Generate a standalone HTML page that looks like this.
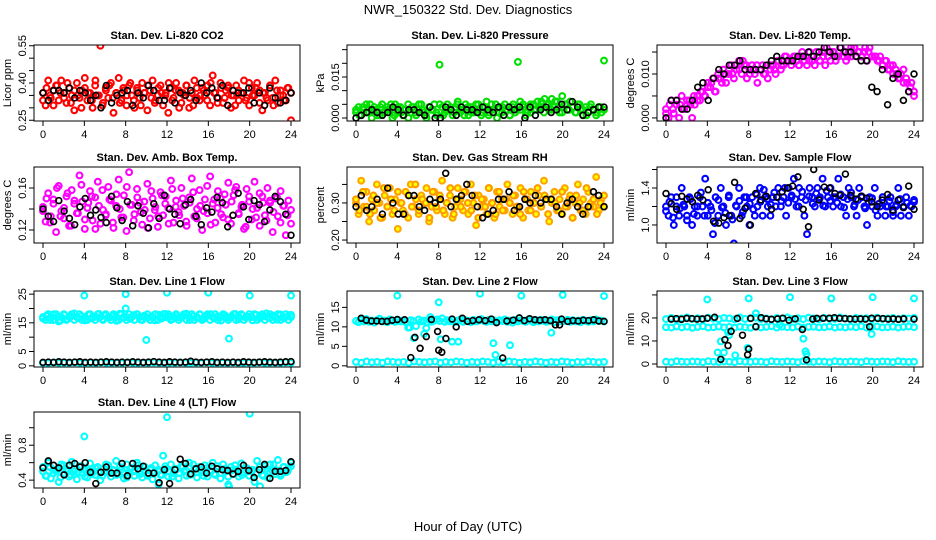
<!DOCTYPE html>
<html><head><meta charset="utf-8"><style>
html,body{margin:0;padding:0;background:#fff;}
svg{display:block;font-family:"Liberation Sans",sans-serif;}
</style></head><body>
<svg id="chart" width="936" height="540" viewBox="0 0 936 540">
<text x="468" y="14" text-anchor="middle" font-size="13">NWR_150322  Std. Dev. Diagnostics</text>
<text x="468" y="531" text-anchor="middle" font-size="13">Hour of Day (UTC)</text>
</svg>
<script>
// ---- data (hours implied as an even grid across 0-24 for each series) ----
const xTicks = [0,4,8,12,16,20,24];
const co2Red = [.36,.31,.41,.34,.37,.39,.33,.41,.36,.32,.38,.35,.29,.40,.34,.37,.42,.33,.36,.30,.39,.35,.55,.32,.38,.34,.40,.28,.36,.42,.33,.37,.31,.39,.35,.30,.38,.34,.40,.36,.29,.37,.41,.33,.35,.39,.31,.36,.28,.38,.34,.40,.37,.32,.35,.39,.30,.36,.41,.34,.33,.38,.35,.39,.31,.43,.36,.34,.40,.32,.37,.38,.30,.35,.39,.33,.36,.41,.34,.31,.38,.35,.40,.37,.29,.36,.33,.39,.34,.41,.32,.37,.35,.33,.38,.25];
const co2Red2 = [.33,.38,.35,.31,.39,.36,.34,.40,.32,.37,.35,.30,.38,.36,.33,.41,.35,.31,.37,.39,.34,.36,.32,.38,.35,.40,.33,.37,.31,.36,.39,.34,.32,.38,.36,.35,.40,.33,.37,.30,.36,.39,.34,.31,.38,.35,.37,.33,.40,.36,.32,.38,.34,.39,.35,.31,.37,.36,.33,.40,.35,.38,.32,.36,.34,.39,.31,.37,.35,.33,.38,.36];
const co2Black = [.36,.33,.37,.37,.36,.38,.34,.37,.36,.33,.35,.30,.39,.32,.35,.36,.37,.31,.36,.34,.39,.37,.33,.33,.38,.32,.36,.35,.37,.33,.40,.36,.38,.34,.39,.31,.37,.36,.36,.38,.32,.36,.31,.38,.34,.32,.33,.36];
const pressGreen = [.002,.004,.001,.003,.005,.002,.000,.004,.003,.001,.005,.002,.004,.003,.000,.005,.002,.004,.001,.003,.005,.002,.004,.001,.003,.005,.002,.000,.004,.003,.005,.001,.0195,.004,.002,.005,.003,.001,.004,.006,.002,.003,.005,.001,.004,.002,.005,.003,.001,.004,.006,.002,.005,.003,.000,.004,.002,.005,.003,.001,.004,.002,.0205,.003,.005,.001,.004,.002,.005,.003,.004,.006,.002,.005,.003,.007,.004,.006,.002,.008,.005,.003,.006,.004,.002,.005,.003,.001,.004,.002,.005,.003,.001,.004,.002,.021];
const pressGreen2 = [.003,.001,.004,.002,.005,.003,.001,.004,.002,.003,.005,.001,.004,.002,.003,.000,.004,.002,.005,.003,.001,.004,.003,.002,.005,.001,.003,.004,.002,.005,.003,.001,.004,.002,.003,.005,.002,.004,.001,.003,.005,.002,.004,.003,.001,.005,.003,.006,.004,.002,.005,.003,.006,.004,.007,.005,.003,.006,.004,.002,.005,.003,.004,.002,.005,.003,.001,.004,.003,.002,.004,.003];
const pressBlack = [.000,.001,.002,.003,.002,.001,.002,.004,.003,.001,.003,.003,.002,.001,.004,.000,.000,.004,.003,.001,.004,.003,.003,.002,.004,.003,.002,.004,.001,.004,.003,.004,.000,.004,.001,.003,.004,.002,.003,.005,.003,.006,.004,.001,.002,.003,.004,.004];
const tempMag = [.002,.000,.004,.001,.003,.000,.005,.002,.003,.004,.000,.003,.005,.004,.006,.005,.008,.007,.009,.006,.010,.009,.011,.008,.010,.012,.009,.011,.013,.010,.012,.009,.011,.012,.010,.008,.011,.012,.010,.009,.011,.012,.010,.013,.011,.012,.014,.013,.012,.014,.013,.012,.014,.013,.012,.015,.013,.012,.014,.013,.015,.012,.014,.013,.015,.013,.014,.016,.014,.013,.015,.014,.016,.014,.015,.014,.015,.013,.016,.014,.014,.013,.014,.012,.013,.011,.012,.010,.011,.009,.010,.008,.009,.006,.008,.005];
const tempMag2 = [.001,.003,.002,.004,.003,.002,.004,.003,.005,.004,.006,.005,.007,.008,.006,.009,.008,.010,.011,.010,.012,.011,.013,.012,.010,.011,.012,.011,.010,.012,.012,.011,.013,.012,.014,.013,.013,.014,.012,.015,.014,.013,.014,.015,.013,.014,.016,.015,.015,.014,.016,.015,.014,.016,.016,.015,.014,.016,.015,.014,.014,.013,.012,.013,.011,.012,.010,.009,.011,.008,.007,.006];
const tempBlack = [.000,.004,.004,.002,.002,.004,.007,.008,.004,.009,.011,.010,.012,.012,.013,.011,.011,.011,.011,.012,.013,.014,.013,.013,.013,.014,.014,.015,.014,.015,.016,.015,.014,.016,.015,.015,.014,.013,.013,.007,.006,.011,.003,.009,.010,.004,.006,.010];
const ambMag = [.142,.128,.155,.133,.149,.118,.162,.138,.131,.152,.124,.158,.145,.136,.172,.147,.121,.141,.157,.129,.151,.166,.126,.139,.134,.161,.148,.122,.143,.168,.132,.153,.119,.175,.144,.135,.159,.146,.125,.139,.164,.131,.150,.142,.123,.156,.134,.152,.141,.167,.127,.148,.137,.160,.143,.124,.151,.169,.133,.140,.158,.120,.149,.136,.171,.145,.127,.157,.150,.132,.144,.165,.126,.153,.161,.135,.142,.121,.159,.147,.130,.166,.141,.124,.152,.134,.160,.146,.118,.150,.133,.157,.143,.115,.148,.139];
const ambMag2 = [.138,.150,.127,.145,.160,.133,.141,.155,.124,.148,.136,.163,.130,.146,.152,.121,.143,.158,.135,.149,.127,.154,.140,.132,.161,.144,.129,.151,.137,.147,.122,.157,.139,.133,.153,.145,.126,.159,.142,.134,.150,.128,.146,.156,.131,.143,.138,.162,.125,.149,.141,.135,.154,.130,.147,.158,.136,.144,.123,.152,.140,.132,.155,.146,.129,.148,.137,.151,.127,.143,.134,.126];
const ambBlack = [.140,.133,.128,.148,.138,.131,.125,.142,.150,.134,.139,.132,.127,.152,.141,.129,.147,.124,.143,.136,.122,.145,.131,.153,.140,.135,.126,.144,.149,.133,.125,.141,.137,.151,.146,.123,.134,.155,.142,.130,.148,.144,.128,.139,.152,.147,.135,.115];
const rhOrange = [.30,.27,.36,.29,.33,.25,.31,.28,.35,.30,.26,.32,.29,.34,.27,.31,.23,.30,.28,.33,.26,.35,.29,.31,.27,.32,.30,.34,.25,.29,.33,.28,.31,.36,.27,.30,.32,.26,.29,.34,.31,.28,.33,.27,.35,.30,.24,.32,.29,.31,.27,.34,.30,.26,.33,.29,.31,.28,.35,.30,.27,.32,.29,.34,.26,.31,.28,.33,.30,.27,.32,.29,.36,.31,.25,.30,.33,.28,.31,.27,.34,.29,.32,.26,.30,.35,.28,.31,.27,.33,.30,.29,.37,.28,.31,.29];
const rhOrange2 = [.31,.28,.33,.29,.27,.32,.30,.26,.34,.29,.31,.28,.33,.30,.27,.32,.29,.35,.28,.31,.30,.26,.33,.29,.32,.28,.30,.34,.27,.31,.29,.33,.30,.28,.32,.26,.31,.29,.34,.30,.27,.33,.28,.31,.30,.32,.29,.27,.33,.31,.28,.30,.34,.29,.32,.27,.31,.30,.28,.33,.29,.31,.26,.32,.30,.28,.34,.29,.31,.27,.30,.32];
const rhBlack = [.29,.32,.28,.29,.31,.27,.34,.30,.27,.27,.32,.32,.29,.28,.31,.30,.31,.38,.29,.31,.32,.35,.32,.29,.26,.27,.28,.31,.31,.33,.28,.29,.31,.30,.32,.30,.31,.31,.29,.27,.30,.31,.29,.27,.29,.33,.32,.29];
const flowBlue = [1.2,1.1,1.3,1.0,1.2,1.1,1.4,1.2,1.1,1.3,1.0,1.2,1.1,1.3,1.2,1.5,1.1,1.2,0.9,1.3,1.1,1.4,1.2,1.0,1.3,1.1,0.8,1.2,1.4,1.1,1.3,1.2,1.0,1.3,1.1,1.2,1.4,1.1,1.3,1.2,1.1,1.3,1.2,1.4,1.2,1.3,1.1,1.4,1.3,1.5,1.2,1.4,1.3,1.1,0.9,1.4,1.3,1.2,1.4,1.3,1.5,1.2,1.3,1.4,1.2,1.3,1.5,1.2,1.3,1.1,1.4,1.3,1.2,1.1,1.4,1.3,1.2,1.0,1.3,1.2,1.4,1.1,1.2,1.3,1.1,1.2,1.3,1.1,1.2,1.4,1.1,1.2,1.3,1.1,1.2,1.25];
const flowBlue2 = [1.15,1.25,1.08,1.3,1.18,1.22,1.05,1.28,1.12,1.2,1.35,1.1,1.24,1.16,1.02,1.27,1.19,1.13,1.32,1.06,1.21,1.26,1.14,1.3,1.23,1.17,1.33,1.25,1.38,1.28,1.22,1.35,1.3,1.26,1.4,1.24,1.32,1.28,1.2,1.36,1.27,1.31,1.23,1.34,1.29,1.21,1.37,1.26,1.3,1.24,1.33,1.19,1.28,1.35,1.22,1.27,1.31,1.18,1.25,1.29,1.16,1.23,1.3,1.2,1.26,1.14,1.22,1.28,1.19,1.24,1.21,1.27];
const flowBlack = [1.34,1.23,1.17,1.31,1.28,1.25,1.32,1.27,1.38,1.04,1.02,1.08,1.10,1.46,1.07,1.18,1.00,1.34,1.27,1.31,1.17,1.30,1.36,1.40,1.42,1.52,1.17,0.98,1.60,1.27,1.41,1.40,1.34,1.32,1.55,1.32,1.28,1.31,1.29,1.25,1.20,1.27,1.33,1.16,1.27,1.19,1.42,1.17];
const l1CyanHigh = [17,16,18,17,16,18,15.5,17,18,16,17,18,16,17,18,16,17,16,18,17,16,18,17,16,18,17,16,18,17,16,18,17,16,18,17,16,18,17,16,17,18,16,17,18,16,17,18,17,18,16,17,18,16,17,18,16,17,18,16,17,18,16,17,18,16,17,18,16,17,18,17,16,17,18,16,17,18,16,17,18,17,18,16,17,18,16,17,18,16,17,18,16,17,18,16,17];
const l1CyanHigh2 = [16.5,17.5,16,18,17,15.8,17.8,16.3,17.2,18.3,16.7,17.4,15.9,17.9,16.6,17.1,18.1,16.2,17.6,16.8,17.3,15.7,18.2,16.9,17,16.4,17.7,18,16.1,17.5,16.8,17.2,15.9,17.8,16.5,18.1,17.1,16.3,17.6,16.9,17.4,18.2,16,17.3,16.7,17.9,16.4,17.5,18,16.6,17.2,15.8,17.7,16.8,17.4,18.1,16.2,17.6,16.9,17.1,15.9,17.8,16.5,17.3,18.3,16.7,17.5,16.1,17.9,16.6,17.2,17.8];
const l1CyanLow = [1,1,1.2,1,1.1,1,1.2,1,1,1.1,1,1.2,1,1,1.1,1,1.2,1,1,1.1,1,1.2,1,1,1.1,1,1.2,1,1,1.1,1,1.2,1,1,1.1,1,1.2,1,1,1.1,1,1.2,1,1,1.1,1,1.2,1];
const l1Black = [1.2,1.3,1.2,1.4,1.3,1.2,1.3,1.4,1.2,1.3,1.2,1.3,1.4,1.3,1.2,1.3,1.2,1.4,1.3,1.2,1.3,1.5,1.3,1.2,1.4,1.3,1.2,1.3,1.6,1.3,1.2,1.3,1.4,1.2,1.3,1.2,1.3,1.2,1.4,1.3,1.2,1.3,1.4,1.3,1.2,1.3,1.4,1.5];
const l1OutHours = [4,8,12,16,20,24,10,18,8];
const l1OutVals = [24.5,25,25.5,25.5,24.5,24.5,9,9.5,20];
const l2CyanHigh = [11.5,11.2,11.8,11.4,12,11.3,11.6,11.1,11.7,12.1,11.4,11.6,11.2,11.9,11.5,11.3,11.8,11.4,11.6,11.2,9.8,11.7,11.5,10.2,11.9,11.4,11.6,11.1,11.8,11.3,11.6,11.9,11.5,12.2,11.3,11.7,11.4,11.8,11.2,11.6,11.9,11.3,11.7,11.5,11.2,11.8,11.4,11.6,12,11.5,11.3,11.8,11.4,11.6,11.2,11.7,11.5,11.9,11.3,11.6,11.1,11.8,11.4,11.7,11.5,11.3,11.9,11.6,11.2,11.7,11.4,11.8,11.5,11.3,11.6,11.9,11.2,11.7,11.4,11.6,11.5,11.8,11.3,11.7,11.4,11.6,11.2,11.8,11.5,11.3,11.7,11.4,11.9,11.5,11.6,11.4];
const l2CyanLow = [1,0.8,1.1,0.9,1,0.8,1.1,1,0.9,1,0.8,1.1,1,0.9,1,1.1,0.8,1,0.9,1.1,1,0.8,1,0.9,1.1,1,0.8,1,0.9,1.1,1,0.8,1,0.9,1.1,1,0.8,1,0.9,1.1,1,0.8,1,0.9,1.1,1,0.9,1];
const l2BlackHours = [0.5,1,1.5,2,2.5,3,3.5,4,4.7,5.3,5.7,6.2,6.8,7.3,7.9,8,8.3,8.7,9.3,9.7,10.3,10.8,11.3,11.9,12.5,13.1,13.6,14.2,14.6,15.2,15.8,16.3,16.8,17.3,17.8,18.3,18.8,19.3,19.7,19.9,20.5,21,21.5,22,22.5,23,23.5,24];
const l2BlackVals = [12.2,11.7,11.5,11.5,11.4,11.4,11.7,11.9,11.8,2.1,7.3,4.5,7.5,11.9,8.8,4,3.5,7,12,10,12.2,11.4,11.6,11.8,11.6,12,11.1,2,11.5,11.7,12.3,11.6,12.1,11.8,11.7,11.8,11.6,10.5,10.5,12,11.4,11.6,11.5,11.7,11.6,11.8,11.5,11.4];
const l2OutHours = [4,8,12,16,20,24,5.2,5.6,6.6,6.8,8.2,9.3,9.9,13.3,13.5,18.9,14.9,7.2];
const l2OutVals = [18,16.3,18.5,18,18.2,17.9,9.8,7.1,8.2,9.7,6.8,6.2,6.2,5.8,2.8,8.5,5.3,12.5];
const l3CyanHigh = [16,15.8,16.3,15.9,16.2,15.7,16.1,16.4,15.8,16,16.3,15.9,16.1,15.8,16.2,16,15.7,16.3,15.9,16.1,16.4,15.8,16.2,16,15.9,16.3,15.8,16.1,16.2,15.9,16,16.3,15.8,16.1,15.9,16.2,16,16.4,15.8,16.1,16.3,15.9,16,16.2,15.8,16.1,16.3,16];
const l3CyanMid = [19.5,20,19.3,19.8,20.2,19.6,19.9,19.4,20.1,19.7,19.5,20,19.8,19.4,20.2,19.6,19.9,20.1,19.5,19.8,19.4,20,19.7,20.2,19.6,19.9,19.5,20.1,19.8,19.4,20,19.7,19.6,20.2,19.8,19.5,20,19.7,19.9,19.4,20.1,19.6,19.8,20,19.5,19.9,19.7,20];
const l3CyanLow = [1,0.8,1.2,1,0.9,1.1,1,0.8,1.2,1,0.9,1.1,1,0.8,1.2,1,0.9,1.1,1,0.8,1.2,1,0.9,1.1,1,0.8,1.2,1,0.9,1.1,1,0.8,1.2,1,0.9,1.1,1,0.8,1.2,1,0.9,1.1,1,0.8,1.2,1,0.9,1];
const l3BlackHours = [0.5,1,1.5,2,2.5,3,3.5,4,4.7,5.3,5.7,6,6.3,6.9,7.4,7.9,8,8.2,8.7,9.2,9.7,10.2,10.8,11.3,11.9,12.5,13.2,13.6,14.2,14.6,15.2,15.8,16.3,16.8,17.3,17.8,18.3,18.8,19.3,19.7,19.9,20.5,21,21.5,22,22.5,23,24];
const l3BlackVals = [19.5,19.7,19.4,19.8,19.7,19.5,19.6,19.9,20.3,2,10.5,8,14.2,19.8,12.5,4,6.5,19.8,16.2,20.1,19.6,19.4,19.6,19.9,19,19.6,15,1.8,19.5,19.8,19.9,19.9,20.1,19.8,19.7,19.6,19.5,19.6,19.5,16.2,19.9,19.8,19.7,19.5,19.6,19.4,19.6,19.5];
const l3OutHours = [4,8,12,16,20,24,5,5.3,5.6,6,6.1,6.7,8.7,7.9,13.3,13.5,13.6,19.9,11];
const l3OutVals = [28,28.5,29,28.5,29,28.5,5,9.8,5,14,12.5,3.8,22,7,11,5.5,4.3,13,17];
const l4Cyan = [.55,.45,.6,.42,.52,.5,.38,.58,.47,.53,.44,.61,.5,.41,.56,.48,.52,.43,.59,.5,.46,.55,.4,.53,.49,.57,.44,.51,.62,.47,.52,.42,.58,.49,.54,.45,.6,.5,.43,.55,.47,.52,.41,.57,.5,.46,.68,.53,.44,.58,.48,.52,.42,.56,.5,.45,.6,.47,.53,.43,.55,.49,.57,.44,.51,.6,.46,.53,.42,.58,.5,.35,.55,.47,.52,.44,.59,.49,.54,.45,.5,.38,.62,.52,.46,.56,.43,.58,.5,.47,.63,.45,.55,.49,.53,.6];
const l4Cyan2 = [.5,.45,.55,.48,.52,.43,.57,.5,.46,.53,.49,.56,.44,.51,.47,.54,.5,.45,.58,.48,.52,.46,.55,.49,.43,.53,.5,.57,.47,.51,.45,.54,.49,.52,.46,.56,.5,.44,.53,.48,.55,.51,.46,.58,.49,.52,.45,.54,.5,.47,.56,.48,.53,.44,.51,.57,.49,.46,.54,.5,.52,.47,.55,.45,.53,.49,.58,.51,.47,.55,.5,.56];
const l4Black = [.54,.62,.57,.54,.46,.57,.59,.55,.6,.49,.36,.49,.55,.48,.48,.59,.45,.59,.53,.56,.48,.48,.37,.52,.36,.52,.64,.59,.47,.53,.55,.48,.56,.53,.52,.51,.47,.5,.57,.51,.43,.52,.58,.42,.5,.5,.51,.61];
const l4OutHours = [4,12,20,18,21,11.2];
const l4OutVals = [0.9,1.12,1.16,0.33,0.33,0.35];

// ---- panel layout ----
const colLeft = [34,347,657];
const rowTop = [45,167,291,412];
const W = 266, H = 76;

const panels = [
 {c:0,r:0,title:"Stan. Dev. Li-820 CO2",ylab:"Licor ppm",ymin:.247,ymax:.553,ticks:[.25,.30,.35,.40,.45,.50,.55],labels:[[.25,"0.25"],[.40,"0.40"],[.55,"0.55"]],
  series:[{y:co2Red,col:"#ff0000"},{y:co2Red2,col:"#ff0000"},{y:co2Black,col:"#000"}]},
 {c:1,r:0,title:"Stan. Dev. Li-820 Pressure",ylab:"kPa",ymin:-0.0011,ymax:0.0267,ticks:[0,.005,.010,.015,.020,.025],labels:[[0,"0.000"],[.015,"0.015"]],
  series:[{y:pressGreen,col:"#00e000"},{y:pressGreen2,col:"#00e000"},{y:pressBlack,col:"#000"}]},
 {c:2,r:0,title:"Stan. Dev. Li-820 Temp.",ylab:"degrees C",ymin:-0.0007,ymax:0.0166,ticks:[0,.005,.010,.015],labels:[[0,"0.000"],[.010,"0.010"]],
  series:[{y:tempMag,col:"#ff00ff"},{y:tempMag2,col:"#ff00ff"},{y:tempBlack,col:"#000"}]},
 {c:0,r:1,title:"Stan. Dev. Amb. Box Temp.",ylab:"degrees C",ymin:.1076,ymax:.18,ticks:[.12,.14,.16],labels:[[.12,"0.12"],[.16,"0.16"]],
  series:[{y:ambMag,col:"#ff00ff"},{y:ambMag2,col:"#ff00ff"},{y:ambBlack,col:"#000"}]},
 {c:1,r:1,title:"Stan. Dev. Gas Stream RH",ylab:"percent",ymin:.192,ymax:.397,ticks:[.20,.25,.30,.35],labels:[[.20,"0.20"],[.30,"0.30"]],
  series:[{y:rhOrange,col:"#ffa500",fill:"#ffff00"},{y:rhOrange2,col:"#ff9900",fill:"#ffff00"},{y:rhBlack,col:"#000"}]},
 {c:2,r:1,title:"Stan. Dev. Sample Flow",ylab:"ml/min",ymin:.805,ymax:1.627,ticks:[1.0,1.2,1.4,1.6],labels:[[1.0,"1.0"],[1.4,"1.4"]],
  series:[{y:flowBlue,col:"#0000ff"},{y:flowBlue2,col:"#0000ff"},{y:flowBlack,col:"#000"}]},
 {c:0,r:2,title:"Stan. Dev. Line 1 Flow",ylab:"ml/min",ymin:-0.4,ymax:26.1,ticks:[0,5,10,15,20,25],labels:[[0,"0"],[5,"5"],[15,"15"],[25,"25"]],
  series:[{y:l1CyanHigh,col:"#00ffff"},{y:l1CyanHigh2,col:"#00ffff"},{y:l1CyanLow,col:"#00ffff"},{x:l1OutHours,y:l1OutVals,col:"#00ffff"},{y:l1Black,col:"#000"}]},
 {c:1,r:2,title:"Stan. Dev. Line 2 Flow",ylab:"ml/min",ymin:-0.3,ymax:19.2,ticks:[0,5,10,15],labels:[[0,"0"],[5,"5"],[10,"10"],[15,"15"]],
  series:[{y:l2CyanHigh,col:"#00ffff"},{y:l2CyanLow,col:"#00ffff"},{x:l2OutHours,y:l2OutVals,col:"#00ffff"},{x:l2BlackHours,y:l2BlackVals,col:"#000"}]},
 {c:2,r:2,title:"Stan. Dev. Line 3 Flow",ylab:"ml/min",ymin:-1.3,ymax:31.7,ticks:[0,10,20,30],labels:[[0,"0"],[10,"10"],[20,"20"]],
  series:[{y:l3CyanHigh,col:"#00ffff"},{y:l3CyanMid,col:"#00ffff"},{y:l3CyanLow,col:"#00ffff"},{x:l3OutHours,y:l3OutVals,col:"#00ffff"},{x:l3BlackHours,y:l3BlackVals,col:"#000"}]},
 {c:0,r:3,title:"Stan. Dev. Line 4 (LT) Flow",ylab:"ml/min",ymin:.31,ymax:1.18,ticks:[.4,.6,.8,1.0],labels:[[.4,"0.4"],[.8,"0.8"]],
  series:[{y:l4Cyan,col:"#00ffff"},{y:l4Cyan2,col:"#00ffff"},{x:l4OutHours,y:l4OutVals,col:"#00ffff"},{y:l4Black,col:"#000"}]}
];

const NS = "http://www.w3.org/2000/svg";
const svg = document.getElementById("chart");
function mk(tag, attrs, parent){
  const e = document.createElementNS(NS, tag);
  for (const k in attrs) e.setAttribute(k, attrs[k]);
  (parent||svg).appendChild(e);
  return e;
}

panels.forEach((p, pi) => {
  const L = colLeft[p.c], T = rowTop[p.r], B = T + H;
  const xs = h => L + 9 + h * (248 / 24);
  const ys = v => B - (v - p.ymin) / (p.ymax - p.ymin) * H;
  const g = mk("g", {});
  
  

  const clip = mk("clipPath", {id: "clip" + pi}, g);
  mk("rect", {x: L, y: T, width: W, height: H}, clip);

  const pts = mk("g", {"clip-path": "url(#clip" + pi + ")"}, g);
  
  
  p.series.forEach(s => {
    const n = s.y.length;
    const isBlack = s.col === "#000";
    s.y.forEach((v, i) => {
      const h = s.x ? s.x[i] : (n > 1 ? i * 24 / (n - 1) : 0);
      const c = mk("circle", {cx: xs(h).toFixed(1), cy: ys(v).toFixed(1), r: 2.9,
        fill: s.fill || "none", stroke: s.col, "stroke-width": isBlack ? 1.7 : 2.1}, pts);
      
      
    });
  });

  const box = mk("rect", {x: L, y: T, width: W, height: H, fill: "none", stroke: "#000", "stroke-width": 1}, g);
  
  

  mk("line", {x1: xs(0), x2: xs(24), y1: B, y2: B, stroke: "#000"}, g);
  xTicks.forEach(t => {
    mk("line", {x1: xs(t), x2: xs(t), y1: B, y2: B + 5, stroke: "#000"}, g);
    const tl = mk("text", {x: xs(t), y: B + 17, "text-anchor": "middle", "font-size": 11}, g);
    tl.textContent = t;
    
    
  });
  mk("line", {x1: L, x2: L, y1: ys(p.ticks[0]), y2: ys(p.ticks[p.ticks.length - 1]), stroke: "#000"}, g);
  p.ticks.forEach(t => {
    mk("line", {x1: L - 5, x2: L, y1: ys(t), y2: ys(t), stroke: "#000"}, g);
  });
  p.labels.forEach(([v, s]) => {
    const yl = mk("text", {x: 0, y: 0, "text-anchor": "middle", "font-size": 11,
      transform: "translate(" + (L - 8) + "," + ys(v).toFixed(1) + ") rotate(-90)"}, g);
    yl.textContent = s;
    
    
  });
  const yt = mk("text", {x: 0, y: 0, "text-anchor": "middle", "font-size": 11,
    transform: "translate(" + (L - 23) + "," + (T + H / 2) + ") rotate(-90)"}, g);
  yt.textContent = p.ylab;
  
  

  const tt = mk("text", {x: L + W / 2, y: T - 6, "text-anchor": "middle", "font-size": 11, "font-weight": "bold"}, g);
  tt.textContent = p.title;
  
  
});
</script>
</body></html>
